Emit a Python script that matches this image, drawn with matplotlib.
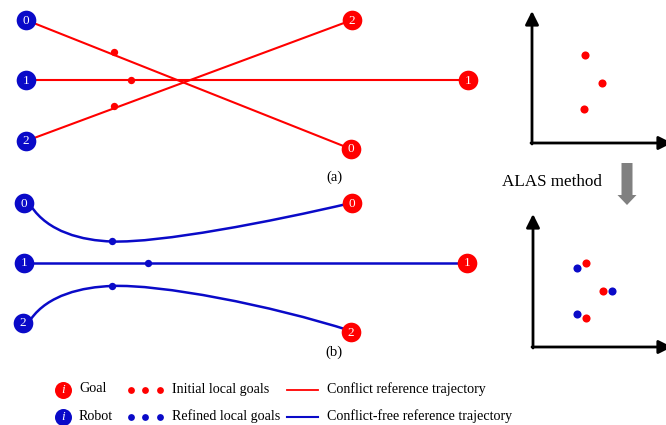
import numpy as np
import matplotlib.pyplot as plt
from matplotlib.path import Path
from matplotlib.patches import PathPatch

plt.rcParams['font.family'] = ['Liberation Serif', 'DejaVu Serif']

RED = '#ff0000'
BLUE = '#0a0ac8'

# (a) conflict reference trajectories, pixel coords of the picture
robots_a = [(26, 20), (26, 80), (26, 141)]
goals_a = [(351, 149), (468, 80), (352, 20)]
local_a = [(114, 52), (131, 80), (114, 106)]

# (b) conflict-free reference trajectories
robots_b = [(24, 203), (24, 263), (23, 323)]
goals_b = [(352, 203), (467, 263), (351, 332)]
local_b = [(112, 241), (148, 263), (112, 286)]
# cubic bezier pieces: start, ctrl, ctrl, local goal, ctrl, ctrl, end
curve0 = [(31, 206), (48, 232), (82, 240.5), (112, 241.5), (160, 243), (270, 222), (351, 203)]
curve2 = [(31, 319), (48, 295), (82, 287), (112, 286), (160, 284), (270, 305), (351, 331)]

# right side scatter sketches
init_top = [(585, 55), (602, 83), (584, 109)]
init_bot = [(586, 263), (603, 291), (586, 318)]
refined_bot = [(577, 268), (612, 291), (577, 314)]

labels = ['0', '1', '2']

fig = plt.figure(figsize=(6.66, 4.25), dpi=100)
ax = fig.add_axes([0, 0, 1, 1])
ax.set_xlim(0, 666)
ax.set_ylim(425, 0)
ax.axis('off')


def node(p, txt, col, s=200, fs=9.5, style='normal'):
    ax.scatter([p[0]], [p[1]], s=s, color=col, zorder=5, linewidths=0)
    ax.text(p[0], p[1] + 0.5, txt, color='white', fontsize=fs, ha='center', va='center',
            zorder=6, style=style)


def bezier(pts):
    codes = [Path.MOVETO] + [Path.CURVE4] * (len(pts) - 1)
    ax.add_patch(PathPatch(Path(pts, codes), fc='none', ec=BLUE, lw=1.8, zorder=2))


# panel (a)
for i in range(3):
    r, g = robots_a[i], goals_a[i]
    ax.plot([r[0], g[0]], [r[1], g[1]], color=RED, lw=1.5, zorder=2)
    ax.scatter([local_a[i][0]], [local_a[i][1]], s=28, color=RED, zorder=4, linewidths=0)
    node(r, labels[i], BLUE)
    node(g, labels[i], RED)
ax.text(334, 177, '(a)', fontsize=10.5, ha='center', va='center')

# panel (b)
bezier(curve0)
bezier(curve2)
ax.plot([robots_b[1][0], goals_b[1][0]], [robots_b[1][1], goals_b[1][1]], color=BLUE, lw=1.8, zorder=2)
for i in range(3):
    ax.scatter([local_b[i][0]], [local_b[i][1]], s=28, color=BLUE, zorder=4, linewidths=0)
    node(robots_b[i], labels[i], BLUE)
    node(goals_b[i], labels[i], RED)
ax.text(334, 352, '(b)', fontsize=10.5, ha='center', va='center')

# right-hand axes sketches
for x0, y0, ytop in [(532, 143, 11), (533, 347, 214)]:
    ax.annotate('', xy=(x0, ytop), xytext=(x0, y0 + 1),
                arrowprops=dict(arrowstyle='-|>,head_length=0.8,head_width=0.4', lw=2, color='k',
                                shrinkA=0, shrinkB=0))
    ax.annotate('', xy=(672, y0), xytext=(x0 - 1, y0),
                arrowprops=dict(arrowstyle='-|>,head_length=0.8,head_width=0.4', lw=2, color='k',
                                shrinkA=0, shrinkB=0), annotation_clip=False)

ax.scatter([p[0] for p in init_top], [p[1] for p in init_top], s=34, color=RED, linewidths=0)
ax.scatter([p[0] for p in init_bot], [p[1] for p in init_bot], s=34, color=RED, linewidths=0)
ax.scatter([p[0] for p in refined_bot], [p[1] for p in refined_bot], s=34, color=BLUE, linewidths=0)

ax.text(502, 182, 'ALAS method', fontsize=12.3, ha='left', va='center')
ax.arrow(627, 163, 0, 32, width=11, head_width=19, head_length=10, color='#808080',
         length_includes_head=False, linewidth=0)

# legend
ax.scatter([63], [390], s=150, color=RED, linewidths=0)
ax.text(63, 390, 'i', color='white', fontsize=9.5, style='italic', ha='center', va='center')
ax.scatter([63], [417], s=150, color=BLUE, linewidths=0)
ax.text(63, 417, 'i', color='white', fontsize=9.5, style='italic', ha='center', va='center')
ax.text(79, 389, 'Goal', fontsize=10.1, va='center')
ax.text(79, 416, 'Robot', fontsize=10.1, va='center')
ax.scatter([131, 145, 160], [390] * 3, s=24, color=RED, linewidths=0)
ax.scatter([131, 145, 160], [417] * 3, s=24, color=BLUE, linewidths=0)
ax.text(172, 389, 'Initial local goals', fontsize=10.1, va='center')
ax.text(172, 416, 'Refined local goals', fontsize=10.1, va='center')
ax.plot([287, 318], [390, 390], color=RED, lw=1.3)
ax.plot([287, 318], [417, 417], color=BLUE, lw=1.5)
ax.text(327, 389, 'Conflict reference trajectory', fontsize=10.1, va='center')
ax.text(327, 416, 'Conflict-free reference trajectory', fontsize=10.1, va='center')

fig.savefig('out.png', dpi=100)
